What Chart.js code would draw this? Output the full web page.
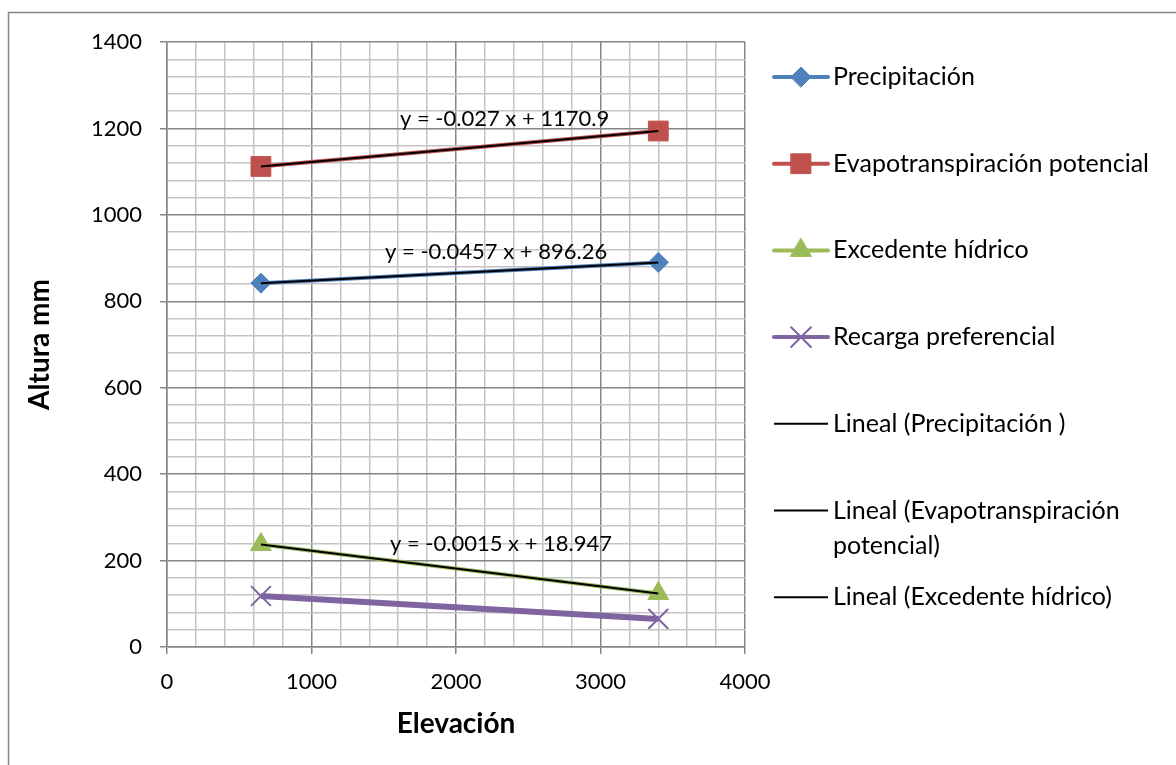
<!DOCTYPE html>
<html>
<head>
<meta charset="utf-8">
<script src="https://cdn.jsdelivr.net/npm/chart.js@4.4.0/dist/chart.umd.min.js"></script>
<style>
  html, body { margin: 0; padding: 0; background: #fff; }
  #wrap { width: 1176px; height: 765px; }
</style>
</head>
<body>
<div id="wrap"><canvas id="chart" width="1176" height="765"></canvas></div>
<script>
// values
const elevation = [650, 3400];
const precipitacion = [842, 890];
const evapotranspiracion = [1112, 1194];
const excedente = [237, 124];
const recarga = [118, 65];

const seriesNames = ['Precipitación', 'Evapotranspiración potencial', 'Excedente hídrico', 'Recarga preferencial'];
const trendNames = ['Lineal (Precipitación )', ['Lineal (Evapotranspiración', 'potencial)'], 'Lineal (Excedente hídrico)'];
const equations = ['y = -0.0457 x + 896.26', 'y = -0.027 x + 1170.9', 'y = -0.0015 x + 18.947'];
const xTickLabels = [0, 1000, 2000, 3000, 4000];
const yTickLabels = [0, 200, 400, 600, 800, 1000, 1200, 1400];

const FONT = 'Lato, "Open Sans", sans-serif';
const MAJOR = '#868686';
const MINOR = '#c4c4c4';

function pts(xs, ys) {
  return xs.map((x, i) => ({ x: x, y: ys[i] }));
}

// least squares line, evaluated at the ends of the series
function linearTrend(xs, ys) {
  const n = xs.length;
  const mx = xs.reduce((a, b) => a + b, 0) / n;
  const my = ys.reduce((a, b) => a + b, 0) / n;
  let sxy = 0, sxx = 0;
  xs.forEach((x, i) => { sxy += (x - mx) * (ys[i] - my); sxx += (x - mx) * (x - mx); });
  const m = sxy / sxx;
  const b = my - m * mx;
  const lo = Math.min(...xs), hi = Math.max(...xs);
  return [{ x: lo, y: m * lo + b }, { x: hi, y: m * hi + b }];
}

const series = [
  { label: seriesNames[0], data: pts(elevation, precipitacion), color: '#4F81BD', style: 'rectRot', r: 10, w: 4 },
  { label: seriesNames[1], data: pts(elevation, evapotranspiracion), color: '#C0504D', style: 'rect', r: 14, w: 4 },
  { label: seriesNames[2], data: pts(elevation, excedente), color: '#9BBB59', style: 'triangle', r: 12, w: 4 },
  { label: seriesNames[3], data: pts(elevation, recarga), color: '#8064A2', style: 'crossRot', r: 14, w: 6 }
];
const trendSources = [precipitacion, evapotranspiracion, excedente];

const datasets = series.map(s => ({
  label: s.label,
  data: s.data,
  showLine: true,
  borderColor: s.color,
  backgroundColor: s.color,
  borderWidth: s.w,
  pointStyle: s.style,
  pointRadius: s.r,
  pointHoverRadius: s.r,
  pointBorderWidth: s.style === 'crossRot' ? 2 : 1,
  order: 2
})).concat(trendSources.map((ys, i) => ({
  label: Array.isArray(trendNames[i]) ? trendNames[i].join(' ') : trendNames[i],
  data: linearTrend(elevation, ys),
  showLine: true,
  borderColor: '#000',
  borderWidth: 2,
  pointRadius: 0,
  order: 0
})));

// equation label anchors, in data units (left edge, middle)
const eqAnchors = [[1509, 914], [1612, 1222], [1543, 238]];

const decor = {
  id: 'decor',
  beforeDraw(chart) {
    const ctx = chart.ctx;
    ctx.save();
    ctx.fillStyle = '#fff';
    ctx.fillRect(0, 0, chart.width, chart.height);
    ctx.strokeStyle = MAJOR;
    ctx.lineWidth = 1.5;
    ctx.strokeRect(8.5, 12.5, chart.width + 20, chart.height + 20);
    ctx.restore();
  },
  afterDatasetsDraw(chart) {
    const ctx = chart.ctx;
    const xs = chart.scales.x, ys = chart.scales.y;
    ctx.save();
    ctx.fillStyle = '#000';
    ctx.font = '22px ' + FONT;
    ctx.textAlign = 'left';
    ctx.textBaseline = 'middle';
    equations.forEach((t, i) => {
      ctx.fillText(t, xs.getPixelForValue(eqAnchors[i][0]), ys.getPixelForValue(eqAnchors[i][1]));
    });
    ctx.restore();
  },
  afterDraw(chart) {
    const ctx = chart.ctx;
    const x0 = 774, x1 = 828, tx = 833, y0 = 77, step = 86.7, lh = 35;
    ctx.save();
    ctx.font = '25px ' + FONT;
    ctx.textAlign = 'left';
    ctx.textBaseline = 'middle';
    const items = series.map(s => ({ text: [s.label], color: s.color, w: 4, style: s.style, r: s.r }))
      .concat(trendNames.map(t => ({ text: Array.isArray(t) ? t : [t], color: '#000', w: 2, style: null })));
    items.forEach((it, i) => {
      const y = y0 + i * step;
      ctx.strokeStyle = it.color;
      ctx.lineWidth = it.w;
      ctx.lineCap = it.style ? 'round' : 'butt';
      ctx.beginPath();
      ctx.moveTo(x0, y);
      ctx.lineTo(x1, y);
      ctx.stroke();
      if (it.style) {
        ctx.fillStyle = it.color;
        ctx.strokeStyle = it.color;
        ctx.lineWidth = it.style === 'crossRot' ? 2 : 1;
        Chart.helpers.drawPoint(ctx, { pointStyle: it.style, radius: it.r, rotation: 0, borderWidth: ctx.lineWidth }, (x0 + x1) / 2, y);
      }
      ctx.fillStyle = '#000';
      it.text.forEach((line, k) => ctx.fillText(line, tx, y + k * lh));
    });
    ctx.restore();
  }
};

function isMajor(v, every) {
  return Math.round(v) % every === 0;
}

new Chart(document.getElementById('chart').getContext('2d'), {
  type: 'scatter',
  data: { datasets: datasets },
  plugins: [decor],
  options: {
    responsive: false,
    animation: false,
    devicePixelRatio: 1,
    layout: { padding: { top: 42, right: 431, left: 0, bottom: 0 } },
    plugins: { legend: { display: false }, tooltip: { enabled: false } },
    scales: {
      x: {
        type: 'linear',
        min: 0,
        max: 4000,
        afterFit(s) { s.height = 118; },
        border: { color: MAJOR, width: 1.5 },
        grid: {
          color: c => isMajor(c.tick.value, 1000) ? MAJOR : MINOR,
          tickColor: c => isMajor(c.tick.value, 1000) ? MAJOR : 'transparent',
          lineWidth: 1.5,
          tickLength: 7
        },
        ticks: {
          stepSize: 200,
          autoSkip: false,
          maxRotation: 0,
          padding: 15,
          color: '#000',
          font: { family: FONT, size: 22 },
          callback: v => xTickLabels.includes(Math.round(v)) ? Math.round(v) : ''
        },
        title: {
          display: true,
          text: 'Elevación',
          color: '#000',
          font: { family: FONT, size: 28, weight: 'bold' },
          padding: { top: 0, bottom: 24 }
        }
      },
      y: {
        type: 'linear',
        min: 0,
        max: 1400,
        afterFit(s) { s.width = 167; },
        border: { color: MAJOR, width: 1.5 },
        grid: {
          color: c => isMajor(c.tick.value, 200) ? MAJOR : MINOR,
          tickColor: c => isMajor(c.tick.value, 200) ? MAJOR : 'transparent',
          lineWidth: 1.5,
          tickLength: 7
        },
        ticks: {
          stepSize: 40,
          autoSkip: false,
          padding: 18,
          color: '#000',
          font: { family: FONT, size: 22 },
          callback: v => yTickLabels.includes(Math.round(v)) ? Math.round(v) : ''
        },
        title: {
          display: true,
          text: 'Altura mm',
          color: '#000',
          font: { family: FONT, size: 28, weight: 'bold' },
          padding: { top: 23, bottom: 0 }
        }
      }
    }
  }
});
</script>
</body>
</html>
